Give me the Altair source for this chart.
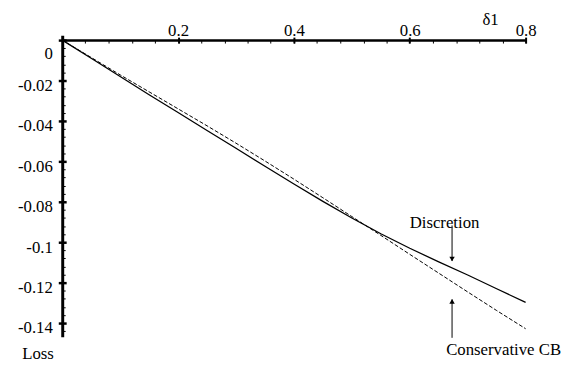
import altair as alt
import pandas as pd

FONT = "'Liberation Serif', 'Times New Roman', Times, serif"
FS = 17

# ---- data ----
delta1 = [0.0, 0.05, 0.1, 0.15, 0.2, 0.25, 0.3, 0.35, 0.4, 0.45, 0.5, 0.55, 0.6, 0.65, 0.7, 0.75, 0.8]
loss_discretion = [0.0, -0.0090, -0.0180, -0.0270, -0.0358, -0.0447, -0.0535, -0.0624, -0.0712,
                   -0.0798, -0.0880, -0.0958, -0.1030, -0.1097, -0.1162, -0.1230, -0.1298]
loss_conservative = [0.0, -0.0086, -0.0172, -0.0256, -0.0340, -0.0424, -0.0510, -0.0598, -0.0688,
                     -0.0780, -0.0873, -0.0966, -0.1060, -0.1153, -0.1246, -0.1338, -0.1428]

x_major = [0.2, 0.4, 0.6, 0.8]
x_minor = [round(0.04 * i, 2) for i in range(1, 21)]
y_major = [0.0, -0.02, -0.04, -0.06, -0.08, -0.10, -0.12, -0.14]
y_minor = [round(-0.004 * i, 3) for i in range(0, 37)]

note_text = ["Discretion", "Conservative CB"]
note_x = [0.660, 0.762]
note_y = [-0.0932, -0.1556]

arrow_x = [0.673, 0.673]
arrow_y1 = [-0.0917, -0.1283]
arrow_y2 = [-0.1093, -0.1473]
head_y = [-0.1083, -0.1293]
head_shape = ["triangle-down", "triangle-up"]

X_DOMAIN = [0, 0.8]
Y_DOMAIN = [-0.14683, 0.00244]

df_d = pd.DataFrame({"x": delta1, "loss": loss_discretion})
df_c = pd.DataFrame({"x": delta1, "loss": loss_conservative})
df_notes = pd.DataFrame({"x": note_x, "y": note_y, "label": note_text})
df_arrows = pd.DataFrame({"x": arrow_x, "y1": arrow_y1, "y2": arrow_y2})
df_heads = pd.DataFrame({"x": arrow_x, "y": head_y, "shape": head_shape})

xs = alt.Scale(domain=X_DOMAIN, nice=False, zero=False)
ys = alt.Scale(domain=Y_DOMAIN, nice=False, zero=False)

common = dict(labelFont=FONT, labelFontSize=FS, labelColor="black", titleFont=FONT,
              titleFontSize=FS, titleColor="black", titleFontWeight="normal", grid=False)

x_main = alt.Axis(orient="top", offset=-5, values=x_major, format=".1f", ticks=False,
                  domainColor="black", domainWidth=2.5, labelPadding=1, labelFlush=False,
                  labelOverlap=False, title="δ1", titleX=434, titleY=-16, titleAlign="center",
                  titleBaseline="alphabetic", **common)
x_maj_ticks = alt.Axis(orient="top", offset=-8, values=x_major, domain=False, labels=False,
                       tickColor="black", tickWidth=2, tickSize=6, title=None, grid=False)
x_min_ticks = alt.Axis(orient="top", offset=-8, values=x_minor, domain=False, labels=False,
                       tickColor="black", tickWidth=1, tickSize=3, title=None, grid=False)

y_main = alt.Axis(orient="left", values=y_major, ticks=False, domainColor="black", domainWidth=3,
                  labelExpr="datum.value == 0 ? '0' : '-' + format(-datum.value, '')",
                  labelPadding=10, labelOffset=alt.condition("datum.value == 0", alt.value(14), alt.value(5)),
                  labelOverlap=False, labelFlush=False,
                  title="Loss", titleAngle=0, titleX=-25, titleY=328, titleAlign="center",
                  titleBaseline="alphabetic", **common)
y_maj_ticks = alt.Axis(orient="left", offset=-4, values=y_major, domain=False, labels=False,
                       tickColor="black", tickWidth=2.5, tickSize=8, title=None, grid=False)
y_min_ticks = alt.Axis(orient="left", offset=-3, values=y_minor, domain=False, labels=False,
                       tickColor="black", tickWidth=1, tickSize=3, title=None, grid=False)

solid = alt.Chart(df_d).mark_line(color="black", strokeWidth=1.3).encode(
    x=alt.X("x:Q", scale=xs, axis=x_main),
    y=alt.Y("loss:Q", scale=ys, axis=y_main),
)
dashed = alt.Chart(df_c).mark_line(color="black", strokeWidth=1, strokeDash=[4, 2]).encode(
    x=alt.X("x:Q", scale=xs, axis=x_maj_ticks),
    y=alt.Y("loss:Q", scale=ys, axis=y_maj_ticks),
)
arrows = alt.Chart(df_arrows).mark_rule(color="black", strokeWidth=1).encode(
    x=alt.X("x:Q", scale=xs, axis=x_min_ticks),
    y=alt.Y("y1:Q", scale=ys, axis=y_min_ticks),
    y2="y2:Q",
)
heads = alt.Chart(df_heads).mark_point(filled=True, color="black", opacity=1, size=30).encode(
    x=alt.X("x:Q", scale=xs, axis=None),
    y=alt.Y("y:Q", scale=ys, axis=None),
    shape=alt.Shape("shape:N", scale=None),
)
notes = alt.Chart(df_notes).mark_text(font=FONT, fontSize=FS, color="black", align="center",
                                      baseline="alphabetic").encode(
    x=alt.X("x:Q", scale=xs, axis=None),
    y=alt.Y("y:Q", scale=ys, axis=None),
    text="label:N",
)

chart = alt.layer(solid, dashed, arrows, heads, notes).resolve_axis(
    x="independent", y="independent"
).properties(
    width=470, height=306,
    padding={"left": 55, "top": 25, "right": 44, "bottom": 28},
    autosize=alt.AutoSizeParams(type="none"),
    background="white",
).configure_view(stroke=None)

chart.save("out.html", embed_options={"renderer": "svg", "actions": False})
